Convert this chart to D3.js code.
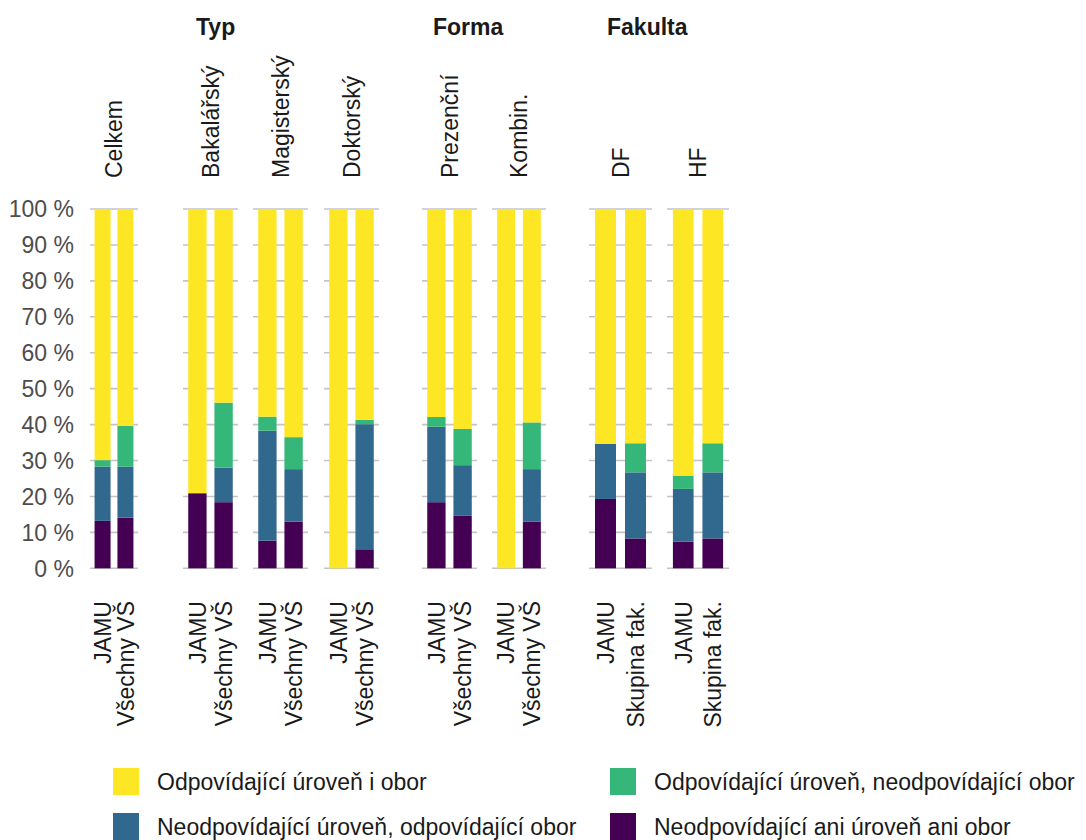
<!DOCTYPE html>
<html>
<head>
<meta charset="utf-8">
<script src="https://cdn.jsdelivr.net/npm/d3@7"></script>
<style>
  html, body { margin: 0; padding: 0; background: #ffffff; }
  svg { display: block; font-family: "Liberation Sans", Arial, sans-serif; }
</style>
</head>
<body>
<svg id="chart" width="1086" height="840"></svg>
<script>
// ---------- data ----------
const categories = ["Celkem", "Bakalářský", "Magisterský", "Doktorský", "Prezenční", "Kombin.", "DF", "HF"];
const categoryGroup = ["", "Typ", "Typ", "Typ", "Forma", "Forma", "Fakulta", "Fakulta"];
const groupTitles = ["Typ", "Forma", "Fakulta"];
const barLabels = [
  ["JAMU", "Všechny VŠ"], ["JAMU", "Všechny VŠ"], ["JAMU", "Všechny VŠ"], ["JAMU", "Všechny VŠ"],
  ["JAMU", "Všechny VŠ"], ["JAMU", "Všechny VŠ"], ["JAMU", "Skupina fak."], ["JAMU", "Skupina fak."]
];
const seriesNames = [
  "Neodpovídající ani úroveň ani obor",
  "Neodpovídající úroveň, odpovídající obor",
  "Odpovídající úroveň, neodpovídající obor",
  "Odpovídající úroveň i obor"
];
// values in bar order: per category [JAMU, comparison]
const neitherValues   = [13.2, 14.1, 20.9, 18.4,  7.7, 13.0,   0,  5.3, 18.4, 14.6,   0, 13.0, 19.3,  8.3,  7.4,  8.3];
const wrongLevelValues = [15.1, 14.2,    0,  9.6, 30.6, 14.6,   0, 34.8, 21.0, 14.1,   0, 14.6, 15.3, 18.4, 14.7, 18.4];
const wrongFieldValues = [ 1.8, 11.3,    0, 18.1,  3.9,  8.9,   0,  1.2,  2.7, 10.1,   0, 13.0,    0,  8.1,  3.7,  8.1];
const matchValues     = [69.9, 60.4, 79.1, 53.9, 57.8, 63.5, 100, 58.7, 57.9, 61.2, 100, 59.4, 65.4, 65.2, 74.2, 65.2];
const yTicks = [0, 10, 20, 30, 40, 50, 60, 70, 80, 90, 100];
const seriesColors = ["#440154", "#31688E", "#35B779", "#FDE725"];

// ---------- layout ----------
const panelSpans = [[90, 138], [183, 238], [253, 308], [324, 379], [422, 477], [492, 546], [589, 652], [667, 729]];
const groupTitleX = [196, 433, 607];
const legendOrder = [3, 1, 2, 0];
const legendCols = [113, 610];
const legendRows = [768, 813];
const FONT = 23;

const svg = d3.select("#chart");
const y = d3.scaleLinear().domain([0, 100]).range([568.3, 209]);

// build rows for stacking
const rows = [];
categories.forEach((c, ci) => {
  barLabels[ci].forEach((lab, bi) => {
    const k = ci * 2 + bi;
    rows.push({
      cat: c, ci, bi, label: lab,
      [seriesNames[0]]: neitherValues[k],
      [seriesNames[1]]: wrongLevelValues[k],
      [seriesNames[2]]: wrongFieldValues[k],
      [seriesNames[3]]: matchValues[k]
    });
  });
});
const stacked = d3.stack().keys(seriesNames)(rows);
const color = d3.scaleOrdinal().domain(seriesNames).range(seriesColors);

// x band scale per panel
const xScales = panelSpans.map((span, i) =>
  d3.scaleBand().domain(barLabels[i].map((_, j) => j)).range(span).paddingInner(0.3).paddingOuter(0.2)
);

// gridlines per panel
panelSpans.forEach((span) => {
  svg.append("g").selectAll("line").data(yTicks).join("line")
    .attr("x1", span[0]).attr("x2", span[1])
    .attr("y1", d => y(d)).attr("y2", d => y(d))
    .attr("stroke", "#c4c4c4").attr("stroke-width", 1.6);
});

// y axis labels
svg.append("g").selectAll("text").data(yTicks).join("text")
  .attr("x", 74).attr("y", d => y(d)).attr("dy", "0.36em")
  .attr("text-anchor", "end").attr("fill", "#4d4d4d")
  .style("font-size", FONT + "px")
  .text(d => d + "\u00a0%");

// bars
svg.append("g").selectAll("g").data(stacked).join("g")
  .attr("fill", d => color(d.key))
  .selectAll("rect").data(d => d).join("rect")
  .attr("x", d => xScales[d.data.ci](d.data.bi))
  .attr("width", d => xScales[d.data.ci].bandwidth())
  .attr("y", d => y(d[1]))
  .attr("height", d => Math.max(0, y(d[0]) - y(d[1])));

// top category labels
svg.append("g").selectAll("text").data(categories).join("text")
  .attr("transform", (d, i) => `translate(${(panelSpans[i][0] + panelSpans[i][1]) / 2},178) rotate(-90)`)
  .attr("dy", "0.36em").attr("text-anchor", "start").attr("fill", "#1a1a1a")
  .style("font-size", FONT + "px")
  .text(d => d);

// group titles
svg.append("g").selectAll("text").data(groupTitles).join("text")
  .attr("x", (d, i) => groupTitleX[i]).attr("y", 34.5)
  .attr("fill", "#1a1a1a").style("font-size", FONT + "px").style("font-weight", "bold")
  .text(d => d);

// bottom bar labels
svg.append("g").selectAll("text").data(rows).join("text")
  .attr("transform", d => {
    const xs = xScales[d.ci];
    return `translate(${xs(d.bi) + xs.bandwidth() / 2},601) rotate(-90)`;
  })
  .attr("dy", "0.36em").attr("text-anchor", "end").attr("fill", "#1a1a1a")
  .style("font-size", FONT + "px")
  .text(d => d.label);

// legend
const leg = svg.append("g");
legendOrder.forEach((si, k) => {
  const lx = legendCols[Math.floor(k / 2)];
  const ly = legendRows[k % 2];
  leg.append("rect").attr("x", lx).attr("y", ly).attr("width", 26).attr("height", 27)
    .attr("fill", seriesColors[si]);
  leg.append("text").attr("x", lx + 44).attr("y", ly + 13.5).attr("dy", "0.37em")
    .attr("fill", "#1a1a1a").style("font-size", FONT + "px").text(seriesNames[si]);
});
</script>
</body>
</html>
